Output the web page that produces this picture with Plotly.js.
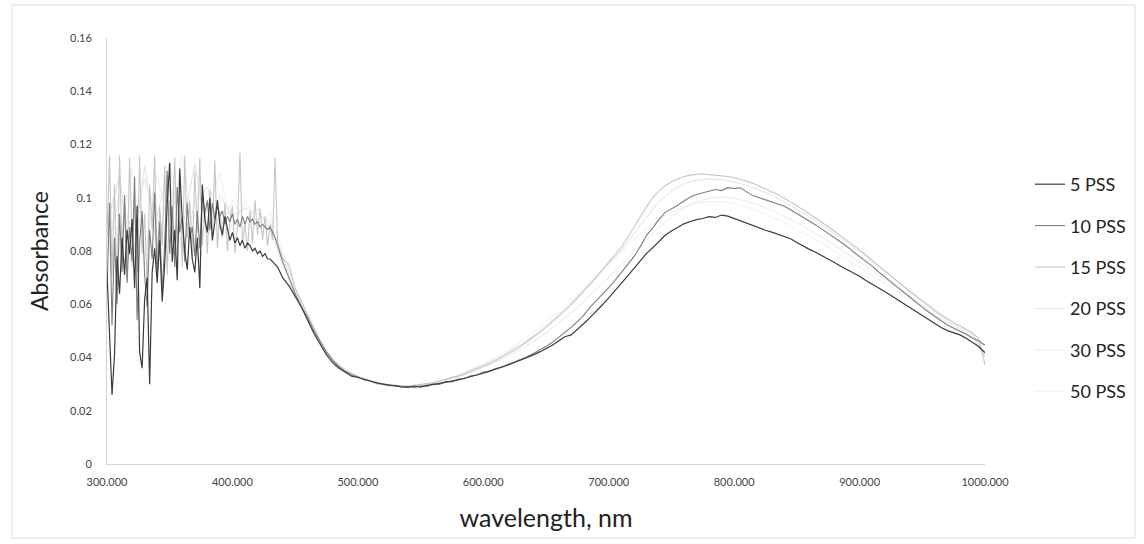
<!DOCTYPE html>
<html>
<head>
<meta charset="utf-8">
<script src="https://cdn.plot.ly/plotly-3.0.1.min.js"></script>
<style>html,body{margin:0;padding:0;background:#fff;}#chart{width:1144px;height:544px;}</style>
</head>
<body>
<div id="chart"></div>
<script>
// Wavelength grid (nm): 2 nm steps in the noisy UV region, 5 nm afterwards
const wavelength = [
300,302,304,306,308,310,312,314,316,318,320,322,324,326,328,330,332,334,336,338,
340,342,344,346,348,350,352,354,356,358,360,362,364,366,368,370,372,374,376,378,
380,382,384,386,388,390,392,394,396,398,400,402,404,406,408,410,412,414,416,418,
420,422,424,426,428,430,432,434,436,438,440,
445,450,455,460,465,470,475,480,485,490,495,500,505,510,515,520,525,530,535,540,
545,550,555,560,565,570,575,580,585,590,595,600,605,610,615,620,625,630,635,640,
645,650,655,660,665,670,675,680,685,690,695,700,705,710,715,720,725,730,735,740,
745,750,755,760,765,770,775,780,785,790,795,800,805,810,815,820,825,830,835,840,
845,850,855,860,865,870,875,880,885,890,895,900,905,910,915,920,925,930,935,940,
945,950,955,960,965,970,975,980,985,990,995,1000];

// Coarser grid used by the three faint series
const wavelengthCoarse = [
300,310,320,330,340,350,360,370,380,390,400,410,420,430,440,450,460,470,480,490,
500,510,520,530,540,550,560,570,580,590,600,610,620,630,640,650,660,670,680,690,
700,710,720,730,740,750,760,770,780,790,800,810,820,830,840,850,860,870,880,890,
900,910,920,930,940,950,960,970,980,990,1000];

const pss5 = [
0.072,0.045,0.026,0.041,0.078,0.064,0.085,0.071,0.088,0.079,0.092,0.066,0.097,0.042,0.036,0.062,0.070,0.030,0.072,0.081,
0.068,0.084,0.061,0.075,0.098,0.113,0.076,0.088,0.069,0.111,0.092,0.080,0.073,0.089,0.077,0.072,0.085,0.066,0.105,0.092,
0.087,0.100,0.084,0.091,0.099,0.090,0.086,0.093,0.089,0.084,0.087,0.083,0.085,0.082,0.084,0.081,0.083,0.082,0.080,0.081,
0.079,0.080,0.078,0.079,0.077,0.077,0.076,0.075,0.074,0.072,0.070,
0.067,0.063,0.059,0.054,0.049,0.045,0.041,0.038,0.036,0.0345,0.033,0.0325,0.0318,0.031,0.0305,0.030,0.0296,0.0292,0.029,0.0288,
0.0293,0.0289,0.0295,0.0298,0.0302,0.0306,0.031,0.0316,0.0322,0.0328,0.0335,0.0341,0.0349,0.0356,0.0364,0.0372,0.0381,0.039,0.040,0.041,
0.0421,0.0433,0.0446,0.0462,0.0478,0.0485,0.0505,0.0527,0.055,0.0573,0.0598,0.0624,0.065,0.0678,0.0706,0.0734,0.0762,0.079,0.0812,0.0836,
0.0859,0.0875,0.0889,0.0902,0.0911,0.0918,0.0922,0.0929,0.0926,0.0935,0.0931,0.0922,0.0913,0.0905,0.0894,0.0886,0.0878,0.0871,0.0862,0.0853,
0.0846,0.0832,0.0818,0.0806,0.0795,0.0783,0.0768,0.0757,0.0743,0.0731,0.0718,0.0705,0.0689,0.0676,0.0662,0.0648,0.0633,0.0618,0.0604,0.0589,
0.0573,0.0558,0.0542,0.0528,0.0513,0.0501,0.0492,0.0485,0.0472,0.0458,0.0441,0.0418];

const pss10 = [
0.065,0.098,0.052,0.085,0.060,0.094,0.072,0.101,0.068,0.089,0.076,0.108,0.054,0.083,0.095,0.071,0.059,0.088,0.077,0.102,
0.070,0.091,0.064,0.083,0.110,0.079,0.097,0.074,0.104,0.087,0.093,0.076,0.098,0.085,0.089,0.078,0.095,0.081,0.101,0.094,
0.099,0.088,0.098,0.092,0.097,0.093,0.095,0.090,0.093,0.091,0.094,0.090,0.092,0.089,0.093,0.090,0.093,0.091,0.092,0.090,
0.091,0.089,0.090,0.089,0.088,0.089,0.087,0.085,0.082,0.079,0.076,
0.070,0.064,0.059,0.055,0.050,0.046,0.042,0.039,0.0365,0.0348,0.0335,0.0327,0.0316,0.0312,0.0302,0.0301,0.0294,0.0296,0.0289,0.0292,
0.0287,0.0294,0.0291,0.0301,0.0299,0.031,0.0308,0.0319,0.032,0.0331,0.0334,0.0345,0.0348,0.0359,0.0365,0.0375,0.0383,0.0393,0.0403,0.0415,
0.0428,0.0441,0.0457,0.0475,0.0494,0.0513,0.0535,0.0558,0.0588,0.0612,0.0637,0.0662,0.069,0.0718,0.0747,0.0778,0.0815,0.0858,0.0886,0.0918,
0.0945,0.0958,0.0972,0.0988,0.1003,0.1012,0.1019,0.1024,0.1031,0.1027,0.1038,0.1035,0.1037,0.1022,0.1008,0.100,0.0992,0.0984,0.0976,0.0968,
0.0955,0.0941,0.0928,0.0912,0.0898,0.0882,0.0866,0.0851,0.0832,0.0817,0.0797,0.078,0.0761,0.0743,0.0722,0.0704,0.0684,0.0665,0.0646,0.0626,
0.0607,0.0589,0.0571,0.0553,0.0538,0.0522,0.0511,0.0497,0.0487,0.0473,0.0462,0.0446];

const pss15 = [
0.085,0.116,0.071,0.105,0.064,0.116,0.080,0.098,0.069,0.115,0.083,0.100,0.072,0.116,0.079,0.094,0.066,0.105,0.088,0.116,
0.075,0.097,0.082,0.112,0.071,0.099,0.086,0.115,0.080,0.106,0.074,0.116,0.085,0.099,0.078,0.110,0.087,0.115,0.082,0.096,
0.079,0.103,0.086,0.114,0.081,0.095,0.085,0.098,0.080,0.092,0.097,0.079,0.089,0.117,0.083,0.090,0.080,0.095,0.083,0.099,
0.086,0.096,0.084,0.093,0.082,0.090,0.084,0.115,0.083,0.080,0.077,
0.075,0.066,0.061,0.056,0.051,0.046,0.042,0.039,0.0368,0.035,0.0338,0.0327,0.0319,0.031,0.0306,0.0299,0.0297,0.0293,0.0294,0.0291,
0.0296,0.0298,0.0302,0.0305,0.0311,0.0316,0.0323,0.033,0.0338,0.0347,0.0356,0.0366,0.0377,0.0389,0.0401,0.0414,0.0428,0.0443,0.0459,0.0476,
0.0494,0.0513,0.0533,0.0554,0.0576,0.0599,0.0623,0.0648,0.0674,0.0701,0.0729,0.0757,0.0786,0.0814,0.085,0.089,0.093,0.0965,0.100,0.1025,
0.1045,0.106,0.107,0.108,0.1085,0.1088,0.109,0.1087,0.1085,0.1083,0.108,0.1076,0.107,0.1062,0.1054,0.1045,0.1033,0.1022,0.1012,0.0998,
0.0985,0.097,0.0955,0.094,0.0924,0.0908,0.0891,0.0875,0.0858,0.084,0.0822,0.0805,0.0785,0.0765,0.0745,0.0725,0.0705,0.0686,0.0667,0.0648,
0.063,0.0611,0.0593,0.0575,0.0559,0.0544,0.053,0.0518,0.0505,0.0493,0.0471,0.0372];

const pss20 = [
0.090,0.108,0.074,0.112,0.081,0.105,0.088,0.113,0.085,0.101,0.093,0.096,0.094,0.091,0.078,0.065,0.055,0.046,0.039,0.0352,
0.0329,0.0312,0.0301,0.0295,0.0293,0.0297,0.0306,0.0318,0.0333,0.0351,0.0371,0.0394,0.042,0.0449,0.0482,0.0519,0.056,0.0605,0.0653,0.0703,
0.0753,0.0802,0.0865,0.0925,0.0985,0.1025,0.1052,0.1066,0.1071,0.1068,0.1059,0.1046,0.1029,0.101,0.0985,0.0958,0.0929,0.0898,0.0866,0.0832,
0.0797,0.0761,0.0724,0.0687,0.065,0.0614,0.058,0.0548,0.0519,0.049,0.0405];

const pss30 = [
0.079,0.101,0.088,0.107,0.093,0.114,0.079,0.098,0.104,0.088,0.099,0.092,0.096,0.088,0.075,0.063,0.054,0.045,0.0385,0.0349,
0.0326,0.031,0.0299,0.0293,0.0291,0.0295,0.0302,0.0313,0.0326,0.0342,0.0361,0.0382,0.0405,0.0431,0.046,0.0492,0.0528,0.0567,0.061,0.0655,
0.0702,0.0748,0.0795,0.0843,0.0889,0.0929,0.0962,0.0985,0.0998,0.1003,0.0998,0.0987,0.0972,0.0953,0.0931,0.0907,0.088,0.0852,0.0822,0.0791,
0.076,0.0727,0.0694,0.0661,0.0628,0.0596,0.0565,0.0536,0.051,0.0483,0.0398];

const pss50 = [
0.096,0.083,0.111,0.077,0.109,0.087,0.116,0.083,0.097,0.109,0.088,0.099,0.090,0.094,0.080,0.066,0.056,0.047,0.0395,0.0355,
0.0331,0.0314,0.0303,0.0296,0.0294,0.0298,0.0307,0.0319,0.0335,0.0354,0.0376,0.0401,0.0429,0.046,0.0495,0.0533,0.0574,0.0617,0.0662,0.0708,
0.0754,0.0799,0.0842,0.0882,0.0917,0.0945,0.0966,0.098,0.0986,0.0985,0.0978,0.0965,0.0948,0.0928,0.0906,0.0882,0.0856,0.0829,0.080,0.0771,
0.0741,0.071,0.0679,0.0648,0.0617,0.0587,0.0558,0.0531,0.0505,0.048,0.041];

const seriesNames = ['5 PSS','10 PSS','15 PSS','20 PSS','30 PSS','50 PSS'];
const xTickVals = [300,400,500,600,700,800,900,1000];
const xTickText = ['300.000','400.000','500.000','600.000','700.000','800.000','900.000','1000.000'];
const yTickVals = [0,0.02,0.04,0.06,0.08,0.1,0.12,0.14,0.16];
const yTickText = ['0','0.02','0.04','0.06','0.08','0.1','0.12','0.14','0.16'];

const seriesY = [pss5,pss10,pss15,pss20,pss30,pss50];
const seriesX = [wavelength,wavelength,wavelength,wavelengthCoarse,wavelengthCoarse,wavelengthCoarse];
const colors = ['#3c3c3c','#7e7e7e','#c6c6c6','#e2e2e2','#e9e9e9','#efefef'];
const widths = [1.2,1.1,1.1,1.0,1.0,1.0];

// draw faint ones first so the darker lines sit on top
const order = [5,4,3,2,1,0];
const traces = order.map(i => ({
  type:'scatter', mode:'lines', name:seriesNames[i],
  x:seriesX[i], y:seriesY[i],
  line:{color:colors[i], width:widths[i]},
  legendrank:i+1, legendgroup:'g'+i
}));

const W = 1144, H = 544, L = 107, R = 159, T = 38, B = 80;
const pw = W-L-R, ph = H-T-B;
const px2x = p => (p-L)/pw;
const px2y = p => (H-B-p)/ph;

const layout = {
  width:W, height:H,
  margin:{l:L, r:R, t:T, b:B},
  paper_bgcolor:'#ffffff', plot_bgcolor:'#ffffff',
  font:{family:'Lato, "Open Sans", sans-serif', color:'#333'},
  showlegend:true,
  legend:{x:px2x(1030), xanchor:'left', y:px2y(166), yanchor:'top',
    font:{size:18, color:'#222'}, tracegroupgap:15, traceorder:'grouped',
    bgcolor:'rgba(0,0,0,0)', itemwidth:30},
  xaxis:{range:[300,1000], tickmode:'array', tickvals:xTickVals, ticktext:xTickText,
    showgrid:false, zeroline:false, showline:true, linecolor:'#d4d4d4', linewidth:1,
    ticks:'', tickfont:{size:11, color:'#444'}, ticklabelstandoff:8,
    title:{text:'wavelength, nm', font:{size:25, color:'#222'}, standoff:22}},
  yaxis:{range:[0,0.16], tickmode:'array', tickvals:yTickVals, ticktext:yTickText,
    showgrid:false, zeroline:false, showline:true, linecolor:'#d4d4d4', linewidth:1,
    ticks:'', tickfont:{size:11, color:'#444'}, ticklabelstandoff:12,
    title:{text:'Absorbance', font:{size:23, color:'#222'}, standoff:14}},
  shapes:[{type:'rect', xref:'paper', yref:'paper',
    x0:px2x(12), x1:px2x(1135), y0:px2y(538), y1:px2y(5),
    line:{color:'#dedede', width:1}, fillcolor:'rgba(0,0,0,0)', layer:'below'}]
};

Plotly.newPlot('chart', traces, layout, {displayModeBar:false, staticPlot:true});
</script>
</body>
</html>
